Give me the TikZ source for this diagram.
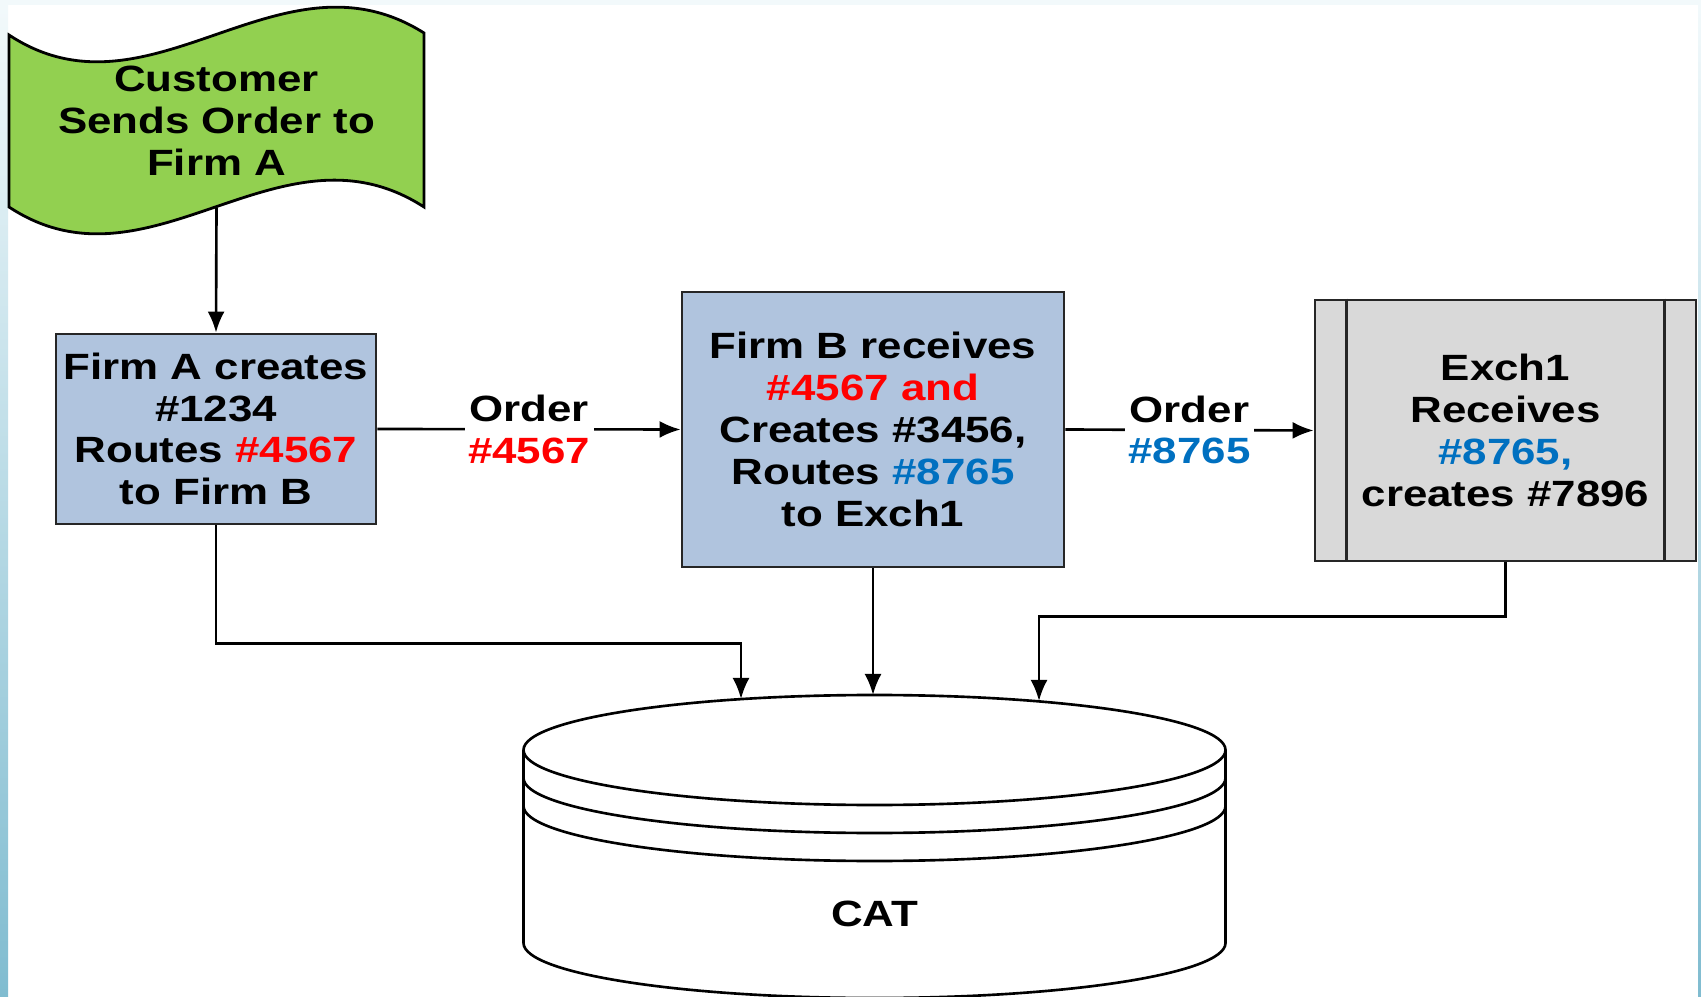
\documentclass[tikz,border=0pt]{standalone}
\usepackage{fontspec}
\setmainfont[FakeStretch=1.2]{Liberation Sans}
\usepackage{xcolor}
\usetikzlibrary{arrows.meta, calc}
\definecolor{firmblue}{RGB}{176,196,222}
\definecolor{custgreen}{RGB}{146,208,80}
\definecolor{exchgray}{RGB}{217,217,217}
\definecolor{ordred}{RGB}{255,0,0}
\definecolor{ordblue}{RGB}{0,112,192}
\definecolor{edgelt}{RGB}{242,249,251}
\definecolor{edgemid}{RGB}{222,238,243}
\definecolor{edgedk}{RGB}{128,188,208}

\begin{document}
\begin{tikzpicture}[
    txt/.style={font=\fontsize{10.4}{11.9}\selectfont\bfseries, align=center},
    box/.style={txt, draw=black!85, line width=0.8pt, inner sep=0pt},
    firm/.style={box, fill=firmblue},
    exch/.style={box, fill=exchgray},
    lbl/.style={txt, fill=white, inner sep=1pt},
    flow/.style={-{Latex[length=2.1mm,width=1.7mm]}, line width=0.75pt},
    dbline/.style={line width=0.75pt},
]
% page and edge strips
\useasboundingbox (0,0) rectangle (17.01,-9.97);
\fill[white] (0,0) rectangle (17.01,-9.97);
\fill[edgelt] (0,0) rectangle (17.01,-0.05);
\shade[top color=edgelt, middle color=edgemid, bottom color=edgedk] (0,-0.05) rectangle (0.08,-9.97);
\shade[top color=edgelt, middle color=edgemid, bottom color=edgedk] (16.98,-0.05) rectangle (17.01,-9.97);

% customer wave
\draw[line width=0.8pt, fill=custgreen]
   (0.09,-0.35) .. controls (1.5,-1.28) and (2.8,0.58) .. (4.24,-0.33)
   -- (4.24,-2.07) .. controls (2.8,-1.14) and (1.5,-3.0) .. (0.09,-2.07) -- cycle;
\node[txt, minimum width=4.15cm, minimum height=1.72cm] (cust) at (2.165,-1.21)
   {Customer\\ Sends Order to\\ Firm A};

\node[firm, minimum width=3.20cm, minimum height=1.90cm] (firma) at (2.16,-4.29)
   {Firm A creates\\ \#1234\\ Routes \textcolor{ordred}{\#4567}\\ to Firm B};
\node[firm, minimum width=3.82cm, minimum height=2.75cm] (firmb) at (8.73,-4.295)
   {Firm B receives\\ \textcolor{ordred}{\#4567 and}\\ Creates \#3456,\\
    Routes \textcolor{ordblue}{\#8765}\\ to Exch1};
\node[exch, minimum width=3.81cm, minimum height=2.61cm] (exch) at (15.055,-4.305)
   {Exch1\\ Receives\\ \textcolor{ordblue}{\#8765,}\\ creates \#7896};
\draw[line width=0.8pt, draw=black!85] ([xshift=3.3mm]exch.north west) -- ([xshift=3.3mm]exch.south west);
\draw[line width=0.8pt, draw=black!85] ([xshift=-3.3mm]exch.north east) -- ([xshift=-3.3mm]exch.south east);

% CAT store
\draw[dbline, fill=white] (5.235,-7.50) -- (5.235,-9.43)
   arc[start angle=180, end angle=360, x radius=3.51, y radius=0.55] -- (12.255,-7.50);
\draw[dbline] (8.745,-7.50) ellipse [x radius=3.51, y radius=0.55];
\draw[dbline] (5.235,-7.78) arc[start angle=180, end angle=360, x radius=3.51, y radius=0.55];
\draw[dbline] (5.235,-8.06) arc[start angle=180, end angle=360, x radius=3.51, y radius=0.55];
\node[txt] (cat) at (8.745,-9.14) {CAT};
\coordinate (catA) at (7.41,-6.99);
\coordinate (catB) at (8.73,-6.95);
\coordinate (catC) at (10.39,-7.01);

\draw[flow] (cust.south) -- (firma.north);
\draw[flow] (firma.east) -- node[lbl] {Order\\ \textcolor{ordred}{\#4567}} (firmb.west);
\draw[flow] (firmb.east) -- node[lbl] {Order\\ \textcolor{ordblue}{\#8765}} (exch.west);
\draw[flow] (firma.south) -- ++(0,-1.18) -| (catA);
\draw[flow] (firmb.south) -- (catB);
\draw[flow] (exch.south) -- ++(0,-0.54) -| (catC);
\end{tikzpicture}
\end{document}
